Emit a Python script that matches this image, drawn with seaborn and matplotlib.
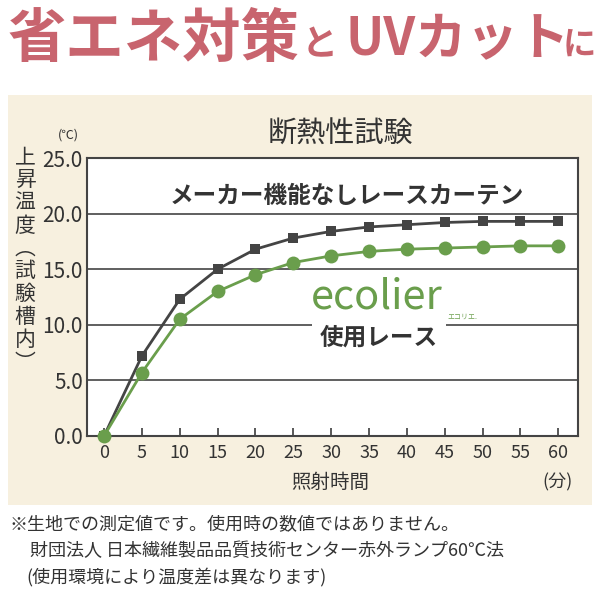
import matplotlib
matplotlib.use("Agg")
import matplotlib.pyplot as plt
import seaborn as sns
import pandas as pd

sns.set_theme(style="white")
plt.rcParams['font.family'] = ['Noto Sans CJK JP', 'DejaVu Sans']

minutes = [0, 5, 10, 15, 20, 25, 30, 35, 40, 45, 50, 55, 60]
plain_lace = [0, 7.2, 12.3, 15.0, 16.8, 17.8, 18.4, 18.8, 19.0, 19.2, 19.3, 19.3, 19.3]
ecolier_lace = [0, 5.7, 10.5, 13.0, 14.5, 15.6, 16.2, 16.6, 16.8, 16.9, 17.0, 17.1, 17.1]
y_ticks = [0, 5, 10, 15, 20, 25]

df = pd.DataFrame({"t": minutes + minutes,
                   "v": plain_lace + ecolier_lace,
                   "s": ["plain"] * 13 + ["eco"] * 13})

fig = plt.figure(figsize=(6, 6), dpi=100)
fig.patch.set_facecolor("white")
bg = fig.add_axes([8/600, 1-505/600, 584/600, 410/600], zorder=0)
bg.set_facecolor("#f7f0df")
bg.set_xticks([]); bg.set_yticks([])
for s in bg.spines.values():
    s.set_visible(False)

ax = fig.add_axes([87/600, 1-436/600, 491/600, 278/600], zorder=2)
ax.set_facecolor("white")
sns.lineplot(data=df[df.s == "plain"], x="t", y="v", ax=ax, color="#444444", lw=2,
             marker="s", markersize=7, markeredgewidth=0, clip_on=False, zorder=5)
sns.lineplot(data=df[df.s == "eco"], x="t", y="v", ax=ax, color="#6a9e4c", lw=2,
             marker="o", markersize=10, markeredgewidth=0, clip_on=False, zorder=6)
ax.set_xlim(-2.25, 62.6)
ax.set_ylim(0, 25)
ax.set_xticks(minutes)
ax.set_xticklabels([str(m) for m in minutes], fontsize=13, color="#333333")
ax.set_yticks(y_ticks)
ax.set_yticklabels([f"{v:.1f}" for v in y_ticks], fontsize=15, color="#333333")
ax.tick_params(axis="x", direction="in", length=6, color="#444444", pad=6, bottom=True)
ax.tick_params(axis="y", length=0, pad=3)
for y in y_ticks[1:-1]:
    ax.axhline(y, color="#444444", lw=1.2, zorder=1)
for s in ax.spines.values():
    s.set_color("#444444"); s.set_linewidth(1.5)
ax.set_xlabel(""); ax.set_ylabel("")

ax.text(0.53, 0.865, "メーカー機能なしレースカーテン", transform=ax.transAxes, ha="center", va="center",
        fontsize=17, fontweight="bold", color="#333333",
        bbox=dict(facecolor="white", edgecolor="none", pad=2), zorder=3)
ax.text(0.59, 0.50, "ecolier", transform=ax.transAxes, ha="center", va="center",
        fontsize=30, color="#6a9e4c", zorder=3)
ax.text(0.765, 0.43, "エコリエ.", transform=ax.transAxes, ha="center", va="center",
        fontsize=5, color="#6a9e4c", zorder=3)
ax.text(0.595, 0.355, "使用レース", transform=ax.transAxes, ha="center", va="center",
        fontsize=17, fontweight="bold", color="#333333",
        bbox=dict(facecolor="white", edgecolor="none", pad=6), zorder=3)

fig.text(340/600, 1-135/600, "断熱性試験", ha="center", va="center", fontsize=21, color="#333333", zorder=5)
fig.text(68/600, 1-135/600, "(℃)", ha="center", va="center", fontsize=9, color="#333333", zorder=5)
fig.text(25/600, 1-260/600, "上\n昇\n温\n度\n︵\n試\n験\n槽\n内\n︶", ha="center", va="center",
         fontsize=15, color="#333333", linespacing=1.05, zorder=5)
fig.text(330/600, 1-482/600, "照射時間", ha="center", va="center", fontsize=14, color="#333333", zorder=5)
fig.text(557/600, 1-482/600, "(分)", ha="center", va="center", fontsize=13, color="#333333", zorder=5)

pink = "#c8646e"
fig.text(8/600, 1-40/600, "省エネ対策", ha="left", va="center", fontsize=42, fontweight="bold", color=pink)
fig.text(302/600, 1-45/600, "と", ha="left", va="center", fontsize=26, fontweight="bold", color=pink)
fig.text(345/600, 1-40/600, "UVカット", ha="left", va="center", fontsize=37, fontweight="bold", color=pink)
fig.text(563/600, 1-45/600, "に", ha="left", va="center", fontsize=24, fontweight="bold", color=pink)

fig.text(10/600, 1-525/600, "※生地での測定値です。使用時の数値ではありません。", ha="left", va="center",
         fontsize=13, color="#333333")
fig.text(30/600, 1-551/600, "財団法人 日本繊維製品品質技術センター赤外ランプ60℃法", ha="left", va="center",
         fontsize=13, color="#333333")
fig.text(26/600, 1-577/600, "(使用環境により温度差は異なります)", ha="left", va="center",
         fontsize=13, color="#333333")

fig.savefig("out.png", dpi=100)
